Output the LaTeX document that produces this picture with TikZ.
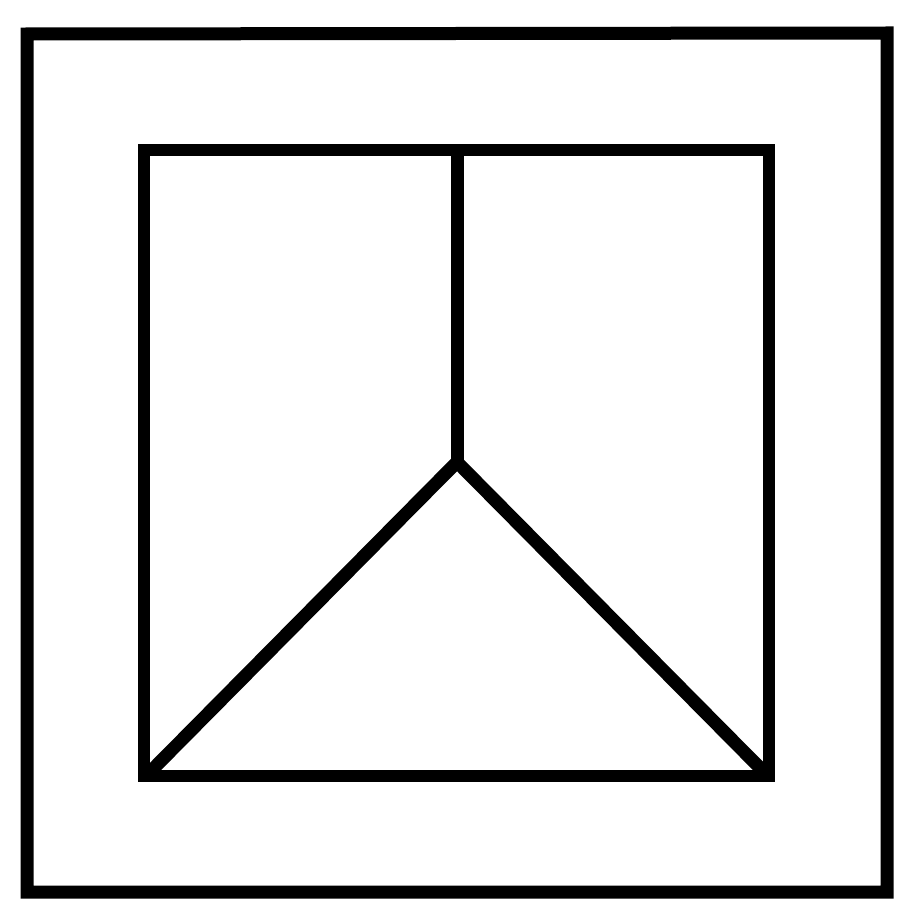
\documentclass[tikz,border=0pt]{standalone}
\begin{document}
\begin{tikzpicture}[x=1pt,y=-1pt,line width=12pt,
  thick line/.style={draw=black,line join=miter}]
\useasboundingbox (0,0) rectangle (900,915);
\fill[white] (0,0) rectangle (900,915);
% outer frame
\draw[thick line,line width=13pt] (27,34) -- (887,33) -- (887,892) -- (27,892) -- cycle;
% inner square
\coordinate (tl) at (144,150);
\coordinate (tr) at (769,150);
\coordinate (br) at (769,776);
\coordinate (bl) at (144,776);
\draw[thick line] (tl) -- (tr) -- (br) -- (bl) -- cycle;
% centre lines
\coordinate (top) at (457,150);
\coordinate (mid) at (457,462);
\draw[thick line,line width=13pt] (top) -- (mid);
\draw[thick line,line width=13pt] (mid) -- (150,772);
\draw[thick line,line width=13pt] (mid) -- (764,772);
\end{tikzpicture}
\end{document}
